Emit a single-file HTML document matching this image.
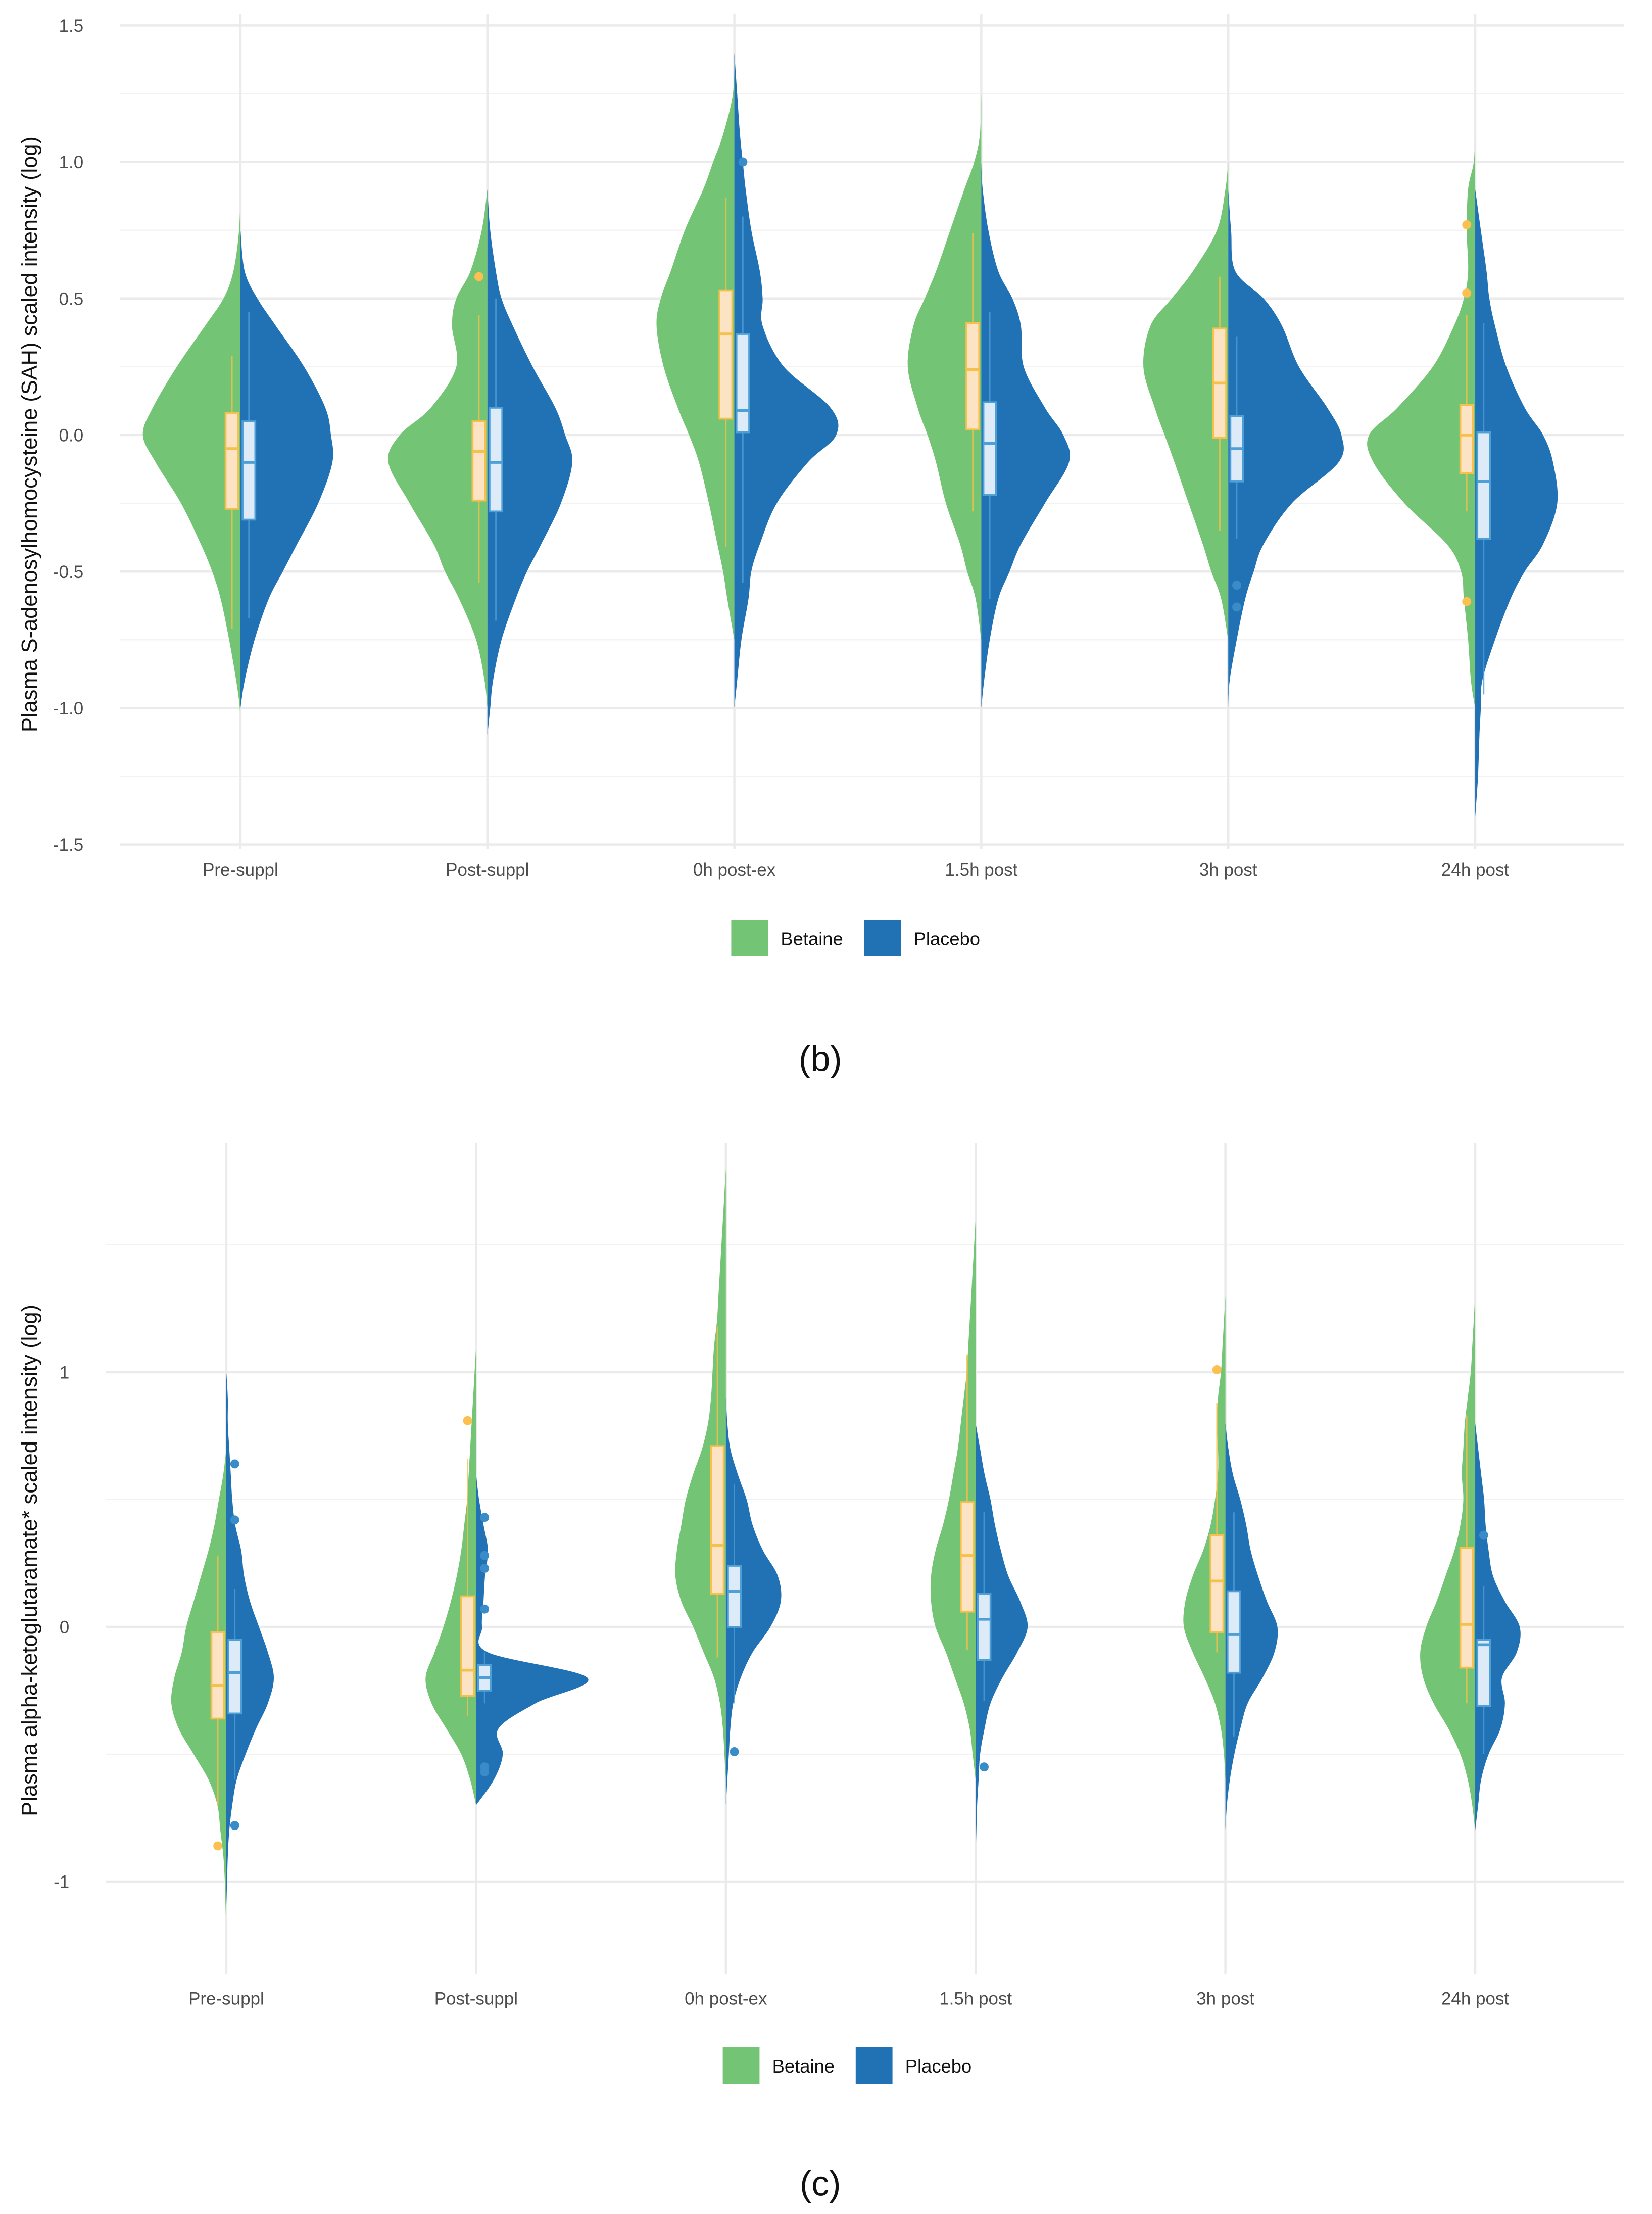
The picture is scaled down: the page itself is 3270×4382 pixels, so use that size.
<!DOCTYPE html>
<html><head><meta charset="utf-8">
<style>
html,body{margin:0;padding:0;background:#fff;}
svg{display:block;}
text{font-family:"Liberation Sans",sans-serif;}
</style></head>
<body>
<svg id="chart" xmlns="http://www.w3.org/2000/svg" width="3270" height="4382" viewBox="0 0 1168 1565" preserveAspectRatio="none"></svg>
<script>
// ---------- shared data ----------
const categories = ["Pre-suppl","Post-suppl","0h post-ex","1.5h post","3h post","24h post"];
const groupNames = ["Betaine","Placebo"];

// ---------- panel (b) data ----------
const bTicks = [1.5,1.0,0.5,0.0,-0.5,-1.0,-1.5];
const bTickLabels = ["1.5","1.0","0.5","0.0","-0.5","-1.0","-1.5"];
const bLevels = [1.4,1.25,1.1,1.0,0.9,0.75,0.6,0.5,0.4,0.25,0.1,0,-0.1,-0.25,-0.4,-0.5,-0.6,-0.75,-0.9,-1.0,-1.1,-1.25,-1.4];
const bBetaineDensity = [
 [0,0,0,0,0,1,5,12,25,45,62,69,60,42,28,20,14,8,3,0.5,0,0,0],
 [0,0,0,0,0,4,12,22,25,22,40,62,70,55,38,30,20,8,2,0,0,0,0],
 [0,1,8,15,22,35,45,52,55,50,40,32,25,18,12,8,5,0,0,0,0,0,0],
 [0,0,1,5,12,22,32,40,48,52,45,38,32,25,15,10,4,0,0,0,0,0,0],
 [0,0,0,0,2,8,25,40,55,60,52,45,38,28,18,12,5,0,0,0,0,0,0],
 [0,0,0,1,5,6,5,8,15,30,55,75,72,50,20,10,8,5,3,0,0,0,0]];
const bPlaceboDensity = [
 [0,0,0,0,0,0,3,12,25,45,60,64,65,55,40,30,20,10,3,0,0,0,0],
 [0,0,0,0,0,2,6,10,18,32,48,55,60,52,38,28,20,10,4,2,0,0,0],
 [0,2,4,6,8,12,18,20,20,35,68,72,52,30,18,12,10,5,2,0,0,0,0],
 [0,0,0,0,1,5,12,22,28,30,45,58,62,45,28,20,12,6,2,0,0,0,0],
 [0,0,0,0,0,2,5,25,38,50,70,80,78,45,25,18,12,6,1,0,0,0,0],
 [0,0,0,0,0,4,8,10,14,22,35,48,55,58,48,35,25,14,5,4,3,2,0]];
// box stats: [lowWhisker, q1, median, q3, highWhisker]
const bBetaineBox = [[-0.71,-0.27,-0.05,0.08,0.29],[-0.54,-0.24,-0.06,0.05,0.44],[-0.41,0.06,0.37,0.53,0.87],[-0.28,0.02,0.24,0.41,0.74],[-0.35,-0.01,0.19,0.39,0.58],[-0.28,-0.14,0.0,0.11,0.44]];
const bPlaceboBox = [[-0.67,-0.31,-0.1,0.05,0.45],[-0.68,-0.28,-0.1,0.1,0.5],[-0.54,0.01,0.09,0.37,0.8],[-0.6,-0.22,-0.03,0.12,0.45],[-0.38,-0.17,-0.05,0.07,0.36],[-0.95,-0.38,-0.17,0.01,0.41]];
const bBetaineOut = [[],[0.58],[],[],[],[0.77,0.52,-0.61]];
const bPlaceboOut = [[],[],[1.0],[],[-0.55,-0.63],[]];

// ---------- panel (c) data ----------
const cTicks = [1,0,-1];
const cTickLabels = ["1","0","-1"];
const cLevels = [1.8,1.7,1.6,1.5,1.4,1.3,1.2,1.1,1.0,0.9,0.8,0.7,0.6,0.5,0.4,0.3,0.2,0.1,0,-0.1,-0.2,-0.3,-0.4,-0.5,-0.6,-0.7,-0.8,-0.9,-1.0,-1.1,-1.2];
const cBetaineDensity = [
 [0,0,0,0,0,0,0,0,0,0,0,0,2,5,8,12,17,22,27,30,35,37,32,22,12,6,4,2,1,0.5,0],
 [0,0,0,0,0,0,0,0,1,2,3,4,5,6,8,10,13,17,22,28,34,30,20,10,4,0,0,0,0,0,0],
 [0,1,2,3,4,5,6,8,9,10,12,16,22,27,30,33,34,30,22,15,8,4,2,1,0,0,0,0,0,0,0],
 [0,0,0,1,2,3,4,5,6,8,10,12,15,18,22,27,30,30,27,20,14,8,4,2,0,0,0,0,0,0,0],
 [0,0,0,0,0,0,1,2,3,5,6,5,5,7,10,15,22,27,28,22,14,7,3,1,0,0,0,0,0,0,0],
 [0,0,0,0,0,0,1,2,3,5,7,8,9,8,10,14,20,26,33,37,35,28,18,10,5,2,0,0,0,0,0]];
const cPlaceboDensity = [
 [0,0,0,0,0,0,0,0,0,1,1,2,3,4,6,10,12,16,22,28,32,28,20,13,7,4,2,1,0.5,0,0],
 [0,0,0,0,0,0,0,0,0,0,0,0,0,2,5,8,6,5,4,8,75,40,15,18,12,0,0,0,0,0,0],
 [0,0,0,0,0,0,0,0,0,0,1,3,8,14,18,25,35,37,30,18,10,5,3,2,1,0,0,0,0,0,0],
 [0,0,0,0,0,0,0,0,0,0,0,3,6,10,13,17,22,30,35,28,18,10,6,3,2,1,0.5,0,0,0,0],
 [0,0,0,0,0,0,0,0,0,0,0,2,5,10,14,17,22,28,35,33,25,15,10,6,3,1,0,0,0,0,0],
 [0,0,0,0,0,0,0,0,0,0,0,2,4,6,7,9,12,20,30,28,18,20,17,9,4,2,0,0,0,0,0]];
const cBetaineBox = [[-0.7,-0.36,-0.23,-0.02,0.28],[-0.35,-0.27,-0.17,0.12,0.66],[-0.12,0.13,0.32,0.71,1.18],[-0.09,0.06,0.28,0.49,1.07],[-0.1,-0.02,0.18,0.36,0.88],[-0.3,-0.16,0.01,0.31,0.83]];
const cPlaceboBox = [[-0.6,-0.34,-0.18,-0.05,0.15],[-0.3,-0.25,-0.2,-0.15,-0.1],[-0.3,0.0,0.14,0.24,0.56],[-0.29,-0.13,0.03,0.13,0.45],[-0.43,-0.18,-0.03,0.14,0.45],[-0.5,-0.31,-0.07,-0.05,0.16]];
const cBetaineOut = [[-0.86],[0.81],[],[],[1.01],[]];
const cPlaceboOut = [[0.64,0.42,-0.78],[0.43,0.28,0.23,0.07,-0.55,-0.57],[-0.49],[-0.55],[],[0.36]];

// ---------- rendering ----------
const NS="http://www.w3.org/2000/svg";
const svg=document.getElementById('chart');
function mk(tag,attrs,parent){const e=document.createElementNS(NS,tag);for(const k in attrs)e.setAttribute(k,attrs[k]);(parent||svg).appendChild(e);return e;}
function smooth(pts){let d="M"+pts[0][0]+","+pts[0][1];for(let i=0;i<pts.length-1;i++){const p0=pts[i-1]||pts[i],p1=pts[i],p2=pts[i+1],p3=pts[i+2]||p2;const c1=[p1[0]+(p2[0]-p0[0])/6,p1[1]+(p2[1]-p0[1])/6],c2=[p2[0]-(p3[0]-p1[0])/6,p2[1]-(p3[1]-p1[1])/6];d+=" C"+c1[0].toFixed(2)+","+c1[1].toFixed(2)+" "+c2[0].toFixed(2)+","+c2[1].toFixed(2)+" "+p2[0].toFixed(2)+","+p2[1].toFixed(2);}return d;}

function drawPanel(cfg){
  const g=mk('g',{});
  
  
  const y=v=>cfg.y0-v*cfg.yPerUnit;
  const x=i=>cfg.xs0+i*cfg.xStep;
  cfg.minor.forEach(v=>{const l=mk('line',{x1:cfg.left,x2:cfg.right,y1:y(v),y2:y(v),stroke:'#f2f2f2','stroke-width':0.8},g);});
  cfg.ticks.forEach((v,i)=>{
    const l=mk('line',{x1:cfg.left,x2:cfg.right,y1:y(v),y2:y(v),stroke:'#ebebeb','stroke-width':1.6},g);
    
    const t=mk('text',{x:cfg.left-26,y:y(v)+4.5,'text-anchor':'end','font-size':12.5,fill:'#4d4d4d'},g);
    t.textContent=cfg.tickLabels[i];
    
  });
  categories.forEach((c,i)=>{
    const l=mk('line',{x1:x(i),x2:x(i),y1:cfg.top,y2:cfg.bottom,stroke:'#ebebeb','stroke-width':1.6},g);
    
    const t=mk('text',{x:x(i),y:cfg.labelY,'text-anchor':'middle','font-size':12.5,fill:'#4d4d4d'},g);
    t.textContent=c;
    
  });
  const yt=mk('text',{x:0,y:0,transform:`translate(${cfg.titleX},${cfg.titleY}) rotate(-90)`,'text-anchor':'middle','font-size':15.5,fill:'#111'},g);
  yt.textContent=cfg.title;
  
  categories.forEach((c,i)=>{
    [[cfg.bet,-1,'#74c476','betaine-violin'],[cfg.pla,1,'#2171b5','placebo-violin']].forEach(([dens,dir,col,nm])=>{
      const d=dens[i];let first=d.findIndex(w=>w>0),last=d.length-1-[...d].reverse().findIndex(w=>w>0);
      first=Math.max(0,first-1);last=Math.min(d.length-1,last+1);
      const pts=[];for(let k=first;k<=last;k++)pts.push([x(i)+dir*d[k]*cfg.wScale,y(cfg.levels[k])]);
      const p=mk('path',{d:smooth(pts)+` L${x(i)},${y(cfg.levels[last])} L${x(i)},${y(cfg.levels[first])} Z`,fill:col},g);
      
    });
    [[cfg.betBox,-1,'#fce3c4','#f7c04a','#fdbf4f',cfg.betOut,'betaine'],[cfg.plaBox,1,'#dcebf7','#4d9fd6','#3a8cc8',cfg.plaOut,'placebo']].forEach(([bx,dir,fill,st,oc,outs,nm])=>{
      const s=bx[i];const cx=x(i)+dir*6;
      const w=mk('line',{x1:cx,x2:cx,y1:y(s[0]),y2:y(s[4]),stroke:st,'stroke-width':1,opacity:0.8},g);
      
      const r=mk('rect',{x:cx-4.5,y:y(s[3]),width:9,height:y(s[1])-y(s[3]),fill:fill,stroke:st,'stroke-width':1.3},g);
      
      const m=mk('line',{x1:cx-4.5,x2:cx+4.5,y1:y(s[2]),y2:y(s[2]),stroke:st,'stroke-width':2},g);
      
      outs[i].forEach(v=>{const o=mk('circle',{cx:cx,cy:y(v),r:3.2,fill:oc},g);});
    });
  });
  const lg=mk('g',{},g);
  
  [[cfg.legX,'#74c476',groupNames[0]],[cfg.legX+94,'#2171b5',groupNames[1]]].forEach(([lx,col,lab])=>{
    const e=mk('g',{},lg);
    mk('rect',{x:lx,y:cfg.legY,width:26,height:26,fill:col},e);
    const t=mk('text',{x:lx+35,y:cfg.legY+18,'font-size':13,fill:'#111'},e);t.textContent=lab;
  });
  const cap=mk('text',{x:580,y:cfg.capY,'text-anchor':'middle','font-size':25,fill:'#111','font-family':'Liberation Serif, serif'},g);
  cap.textContent=cfg.caption;
}

drawPanel({name:'panel-b-sah',y0:307.5,yPerUnit:193,left:85,right:1148,top:10,bottom:600,xs0:170,xStep:174.6,
  ticks:bTicks,tickLabels:bTickLabels,minor:[1.25,0.75,0.25,-0.25,-0.75,-1.25],levels:bLevels,wScale:1,
  bet:bBetaineDensity,pla:bPlaceboDensity,betBox:bBetaineBox,plaBox:bPlaceboBox,betOut:bBetaineOut,plaOut:bPlaceboOut,
  labelY:619,title:'Plasma S-adenosylhomocysteine (SAH) scaled intensity (log)',titleX:26,titleY:307,
  legX:517,legY:650,capY:757,caption:'(b)'});
drawPanel({name:'panel-c-akg',y0:1150,yPerUnit:180,left:75,right:1148,top:808,bottom:1395,xs0:160,xStep:176.6,
  ticks:cTicks,tickLabels:cTickLabels,minor:[1.5,0.5,-0.5],levels:cLevels,wScale:1.05,
  bet:cBetaineDensity,pla:cPlaceboDensity,betBox:cBetaineBox,plaBox:cPlaceboBox,betOut:cBetaineOut,plaOut:cPlaceboOut,
  labelY:1417,title:'Plasma alpha-ketoglutaramate* scaled intensity (log)',titleX:26,titleY:1103,
  legX:511,legY:1447,capY:1552,caption:'(c)'});
</script>
</body></html>
